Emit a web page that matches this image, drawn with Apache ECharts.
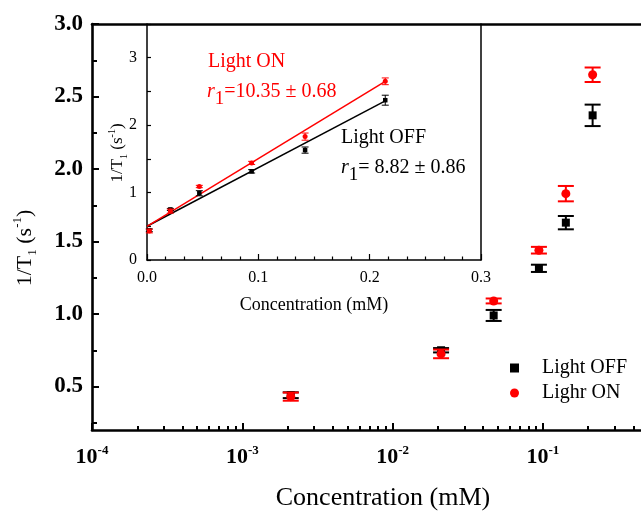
<!DOCTYPE html>
<html><head><meta charset="utf-8">
<script src="https://cdn.jsdelivr.net/npm/echarts@6/dist/echarts.min.js"></script>
<style>html,body{margin:0;padding:0;background:#fff}#c{width:641px;height:512px}</style>
</head><body><div id="c"></div>
<script>
// ---- data ----
const conc = [0.0021, 0.021, 0.047, 0.094, 0.142, 0.214];
const onVals = [0.43, 0.725, 1.09, 1.44, 1.83, 2.65];
const offVals = [0.44, 0.75, 0.99, 1.315, 1.63, 2.37];
const onErr = [0.028, 0.03, 0.017, 0.023, 0.053, 0.05];
const offErr = [0.02, 0.015, 0.038, 0.025, 0.046, 0.074];
const fitX = [0, 0.214];
const fitOn = [0.50, 2.65];
const fitOff = [0.50, 2.36];
// ---- axis extents / ticks ----
const mainXMin = 1e-4;
const mainXMax = 0.449;   // right edge of the visible (cropped) plot
const mainXTicks = [1e-4, 1e-3, 1e-2, 1e-1];
const minorMult = [2, 3, 4, 5, 6, 7, 8, 9];
const mainXMinor = [];
[1e-4, 1e-3, 1e-2, 1e-1].forEach(d => minorMult.forEach(m => mainXMinor.push(+(d * m).toPrecision(3))));
const mainYTicks = [0.5, 1.0, 1.5, 2.0, 2.5, 3.0];
const mainYMinor = [0.25, 0.75, 1.25, 1.75, 2.25, 2.75];
const insetYTicks = [0, 1, 2, 3];
const insetYMinor = [0, 0.5, 1, 1.5, 2, 2.5, 3, 3.5];

const SERIF = '"Liberation Serif", "DejaVu Serif", serif';
const RED = '#ff0000', BLK = '#000000';

function errRender(capHalf, lw, color) {
  return function (params, api) {
    const x = api.value(0), y = api.value(1), e = api.value(2);
    const t = api.coord([x, y + e]), b = api.coord([x, y - e]);
    const st = { stroke: color, lineWidth: lw };
    return { type: 'group', children: [
      { type: 'line', shape: { x1: t[0], y1: t[1], x2: b[0], y2: b[1] }, style: st },
      { type: 'line', shape: { x1: t[0] - capHalf, y1: t[1], x2: t[0] + capHalf, y2: t[1] }, style: st },
      { type: 'line', shape: { x1: b[0] - capHalf, y1: b[1], x2: b[0] + capHalf, y2: b[1] }, style: st }
    ]};
  };
}
const triples = (vals, errs) => conc.map((c, i) => [c, vals[i], errs[i]]);
const pairs = (vals) => conc.map((c, i) => [c, vals[i]]);

const chart = echarts.init(document.getElementById('c'), null, { renderer: 'canvas' });
const mainLine = { show: true, lineStyle: { color: BLK, width: 2.6 } };
const insetLine = { show: true, lineStyle: { color: BLK, width: 1.5 } };

chart.setOption({
  animation: false,
  backgroundColor: '#fff',
  grid: [
    { left: 92, top: 24, width: 549, height: 406, containLabel: false },
    { left: 147, top: 24, width: 334, height: 236, containLabel: false }
  ],
  xAxis: [
    { type: 'log', gridIndex: 0, min: mainXMin, max: mainXMax, logBase: 10, position: 'bottom',
      axisLine: mainLine, splitLine: { show: false },
      axisTick: { inside: true, length: 7, lineStyle: { width: 2, color: BLK }, customValues: mainXTicks },
      axisLabel: { customValues: mainXTicks, margin: 14,
        formatter: v => '{b|10}{s|' + Math.round(Math.log10(v)) + '}',
        rich: {
          b: { fontFamily: SERIF, fontWeight: 'bold', fontSize: 22, lineHeight: 26, verticalAlign: 'middle', color: BLK },
          s: { fontFamily: SERIF, fontWeight: 'bold', fontSize: 13, lineHeight: 13, verticalAlign: 'top', color: BLK }
        } } },
    { type: 'log', gridIndex: 0, min: mainXMin, max: mainXMax, logBase: 10, position: 'bottom',
      axisLine: { show: false }, splitLine: { show: false }, axisLabel: { show: false },
      axisTick: { inside: true, length: 4, lineStyle: { width: 2, color: BLK }, customValues: mainXMinor } },
    { type: 'value', gridIndex: 0, min: 0, max: 1, position: 'top',
      axisLine: mainLine, axisTick: { show: false }, axisLabel: { show: false }, splitLine: { show: false } },
    { type: 'value', gridIndex: 1, min: 0, max: 0.3, interval: 0.1, position: 'bottom',
      axisLine: insetLine, splitLine: { show: false },
      axisTick: { inside: true, length: 6, lineStyle: { width: 1.2, color: BLK } },
      minorTick: { show: true, splitNumber: 6, length: 3.5, lineStyle: { width: 1.2, color: BLK } },
      axisLabel: { margin: 10, fontFamily: SERIF, fontSize: 16, color: BLK, formatter: v => v.toFixed(1) } }
  ],
  yAxis: [
    { type: 'value', gridIndex: 0, min: 0.2, max: 3.0, position: 'left',
      axisLine: mainLine, splitLine: { show: false },
      axisTick: { inside: true, length: 7, lineStyle: { width: 2, color: BLK }, customValues: mainYTicks },
      axisLabel: { customValues: mainYTicks, margin: 9, fontFamily: SERIF, fontWeight: 'bold', fontSize: 23, color: BLK,
        formatter: v => v.toFixed(1) } },
    { type: 'value', gridIndex: 0, min: 0.2, max: 3.0, position: 'left',
      axisLine: { show: false }, splitLine: { show: false }, axisLabel: { show: false },
      axisTick: { inside: true, length: 5, lineStyle: { width: 2, color: BLK }, customValues: mainYMinor } },
    { type: 'value', gridIndex: 1, min: 0, max: 3.5, position: 'left',
      axisLine: insetLine, splitLine: { show: false },
      axisTick: { inside: true, length: 4, lineStyle: { width: 1.2, color: BLK }, customValues: insetYMinor },
      axisLabel: { customValues: insetYTicks, margin: 10, fontFamily: SERIF, fontSize: 16, color: BLK } },
    { type: 'value', gridIndex: 1, min: 0, max: 3.5, position: 'right',
      axisLine: insetLine, axisTick: { show: false }, axisLabel: { show: false }, splitLine: { show: false } }
  ],
  legend: {
    left: 505, top: 353, orient: 'vertical', itemWidth: 9, itemHeight: 9, itemGap: 5,
    data: [{ name: 'Light OFF', icon: 'rect' }, { name: 'Lighr ON', icon: 'circle' }],
    textStyle: { fontFamily: SERIF, fontSize: 20, color: BLK, lineHeight: 20, padding: [0, 0, 0, 18] }
  },
  series: [
    { type: 'custom', name: 'errOff', xAxisIndex: 0, yAxisIndex: 0, renderItem: errRender(8, 2, BLK),
      encode: { x: 0, y: 1 }, data: triples(offVals, offErr), z: 2 },
    { type: 'scatter', name: 'Light OFF', xAxisIndex: 0, yAxisIndex: 0, symbol: 'rect', symbolSize: 8,
      itemStyle: { color: BLK, opacity: 1 }, data: pairs(offVals), z: 3 },
    { type: 'custom', name: 'errOn', xAxisIndex: 0, yAxisIndex: 0, renderItem: errRender(8, 2, RED),
      encode: { x: 0, y: 1 }, data: triples(onVals, onErr), z: 4 },
    { type: 'scatter', name: 'Lighr ON', xAxisIndex: 0, yAxisIndex: 0, symbol: 'circle', symbolSize: 9,
      itemStyle: { color: RED, opacity: 1 }, data: pairs(onVals), z: 5 },
    // inset
    { type: 'line', name: 'fitOff', xAxisIndex: 3, yAxisIndex: 2, symbol: 'none',
      lineStyle: { color: BLK, width: 1.5 }, data: fitX.map((x, i) => [x, fitOff[i]]), z: 2 },
    { type: 'line', name: 'fitOn', xAxisIndex: 3, yAxisIndex: 2, symbol: 'none',
      lineStyle: { color: RED, width: 1.5 }, data: fitX.map((x, i) => [x, fitOn[i]]), z: 2 },
    { type: 'custom', name: 'iErrOff', xAxisIndex: 3, yAxisIndex: 2, renderItem: errRender(3.5, 1, BLK),
      encode: { x: 0, y: 1 }, data: triples(offVals, offErr), z: 3 },
    { type: 'scatter', name: 'iOff', xAxisIndex: 3, yAxisIndex: 2, symbol: 'rect', symbolSize: 4.5,
      itemStyle: { color: BLK, opacity: 1 }, data: pairs(offVals), z: 4 },
    { type: 'custom', name: 'iErrOn', xAxisIndex: 3, yAxisIndex: 2, renderItem: errRender(3.5, 1, RED),
      encode: { x: 0, y: 1 }, data: triples(onVals, onErr), z: 5 },
    { type: 'scatter', name: 'iOn', xAxisIndex: 3, yAxisIndex: 2, symbol: 'circle', symbolSize: 5,
      itemStyle: { color: RED, opacity: 1 }, data: pairs(onVals), z: 6 }
  ],
  graphic: [
    { type: 'text', x: 25, y: 248, rotation: Math.PI / 2,
      style: { text: '{n|1/T}{sb|1}{n| (s}{sp|-1}{n|)}', align: 'center', verticalAlign: 'middle',
        rich: {
          n: { fontFamily: SERIF, fontSize: 22, lineHeight: 28, verticalAlign: 'middle', fill: BLK },
          sb: { fontFamily: SERIF, fontSize: 13, lineHeight: 13, verticalAlign: 'bottom', fill: BLK },
          sp: { fontFamily: SERIF, fontSize: 13, lineHeight: 13, verticalAlign: 'top', fill: BLK }
        } } },
    { type: 'text', x: 383, y: 498,
      style: { text: 'Concentration (mM)', font: '26px ' + SERIF, fill: BLK, align: 'center', verticalAlign: 'middle' } },
    { type: 'text', x: 118, y: 153, rotation: Math.PI / 2,
      style: { text: '{n|1/T}{sb|1}{n| (s}{sp|-1}{n|)}', align: 'center', verticalAlign: 'middle',
        rich: {
          n: { fontFamily: SERIF, fontSize: 17, lineHeight: 22, verticalAlign: 'middle', fill: BLK },
          sb: { fontFamily: SERIF, fontSize: 10, lineHeight: 10, verticalAlign: 'bottom', fill: BLK },
          sp: { fontFamily: SERIF, fontSize: 10, lineHeight: 10, verticalAlign: 'top', fill: BLK }
        } } },
    { type: 'text', x: 314, y: 305,
      style: { text: 'Concentration (mM)', font: '18px ' + SERIF, fill: BLK, align: 'center', verticalAlign: 'middle' } },
    { type: 'text', x: 208, y: 62,
      style: { text: 'Light ON', font: '20px ' + SERIF, fill: RED, align: 'left', verticalAlign: 'middle' } },
    { type: 'text', x: 207, y: 82,
      style: { text: '{i|r}{sb|1}{n|=10.35 ± 0.68}', align: 'left', verticalAlign: 'top',
        rich: {
          i: { fontFamily: SERIF, fontSize: 20, fontStyle: 'italic', lineHeight: 20, verticalAlign: 'top', fill: RED },
          n: { fontFamily: SERIF, fontSize: 20, lineHeight: 20, verticalAlign: 'top', fill: RED },
          sb: { fontFamily: SERIF, fontSize: 19, lineHeight: 34, verticalAlign: 'middle', fill: RED }
        } } },
    { type: 'text', x: 341, y: 138,
      style: { text: 'Light OFF', font: '20px ' + SERIF, fill: BLK, align: 'left', verticalAlign: 'middle' } },
    { type: 'text', x: 341, y: 158,
      style: { text: '{i|r}{sb|1}{n|= 8.82 ± 0.86}', align: 'left', verticalAlign: 'top',
        rich: {
          i: { fontFamily: SERIF, fontSize: 20, fontStyle: 'italic', lineHeight: 20, verticalAlign: 'top', fill: BLK },
          n: { fontFamily: SERIF, fontSize: 20, lineHeight: 20, verticalAlign: 'top', fill: BLK },
          sb: { fontFamily: SERIF, fontSize: 19, lineHeight: 34, verticalAlign: 'middle', fill: BLK }
        } } }
  ]
});
</script></body></html>
